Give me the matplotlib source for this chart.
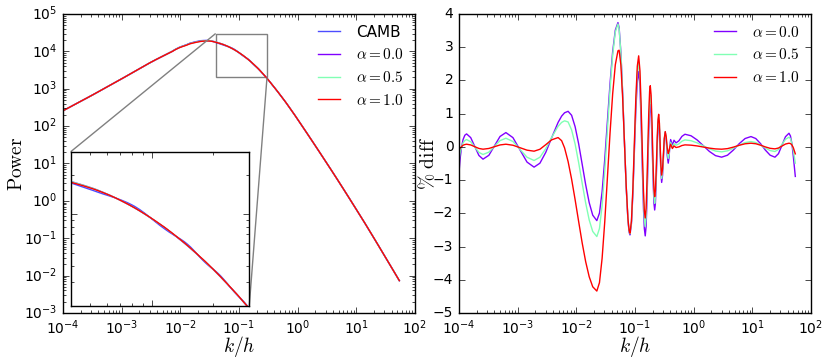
import numpy as np
import matplotlib
matplotlib.use('Agg')
from matplotlib import pyplot as plt
from mpl_toolkits.axes_grid1.inset_locator import mark_inset

plt.style.use('classic')
plt.rcParams['font.size'] = 10
plt.rcParams['figure.facecolor'] = 'white'
plt.rcParams['savefig.facecolor'] = 'white'

# log10(k/h) sampling shared by both panels
log_k = np.array([
    -4.00, -3.98, -3.955, -3.93, -3.90, -3.87, -3.80, -3.73, -3.66, -3.59,
    -3.49, -3.395, -3.30, -3.20, -3.08, -2.96, -2.84, -2.72, -2.62, -2.52,
    -2.42, -2.31, -2.25, -2.20, -2.14, -2.08, -2.02, -1.96, -1.90, -1.84,
    -1.78, -1.72, -1.65, -1.605, -1.56, -1.515, -1.47, -1.425, -1.38, -1.335,
    -1.29, -1.27, -1.24, -1.21, -1.18, -1.15, -1.12, -1.10, -1.085, -1.06,
    -1.035, -1.01, -0.985, -0.96, -0.937, -0.915, -0.895, -0.875, -0.855, -0.84,
    -0.825, -0.81, -0.795, -0.78, -0.765, -0.75, -0.739, -0.725, -0.712, -0.70,
    -0.688, -0.676, -0.664, -0.652, -0.641, -0.630, -0.619, -0.607, -0.596, -0.583,
    -0.570, -0.558, -0.545, -0.53, -0.515, -0.50, -0.484, -0.467, -0.45, -0.433,
    -0.419, -0.405, -0.392, -0.362, -0.335, -0.30, -0.25, -0.20, -0.148, -0.044,
    0.060, 0.165, 0.269, 0.373, 0.477, 0.577, 0.677, 0.777, 0.877, 0.977,
    1.059, 1.141, 1.222, 1.304, 1.386, 1.446, 1.506, 1.565, 1.625, 1.65,
    1.675, 1.70, 1.733])

# log10 of the alpha=1.0 power spectrum
log_power_a10 = np.array([
    2.410, 2.427, 2.448, 2.469, 2.494, 2.519, 2.578, 2.637, 2.696, 2.754,
    2.839, 2.921, 3.004, 3.091, 3.196, 3.301, 3.408, 3.515, 3.604, 3.693,
    3.776, 3.863, 3.910, 3.949, 3.995, 4.050, 4.095, 4.130, 4.161, 4.200,
    4.224, 4.245, 4.266, 4.273, 4.278, 4.278, 4.270, 4.256, 4.236, 4.216,
    4.194, 4.183, 4.165, 4.146, 4.125, 4.102, 4.078, 4.061, 4.048, 4.025,
    4.001, 3.976, 3.950, 3.923, 3.898, 3.872, 3.848, 3.823, 3.798, 3.779,
    3.759, 3.739, 3.718, 3.697, 3.675, 3.654, 3.638, 3.617, 3.597, 3.579,
    3.560, 3.541, 3.522, 3.502, 3.484, 3.466, 3.447, 3.427, 3.408, 3.386,
    3.363, 3.341, 3.318, 3.291, 3.263, 3.235, 3.204, 3.171, 3.138, 3.104,
    3.077, 3.049, 3.024, 2.964, 2.910, 2.838, 2.735, 2.630, 2.515, 2.282,
    2.040, 1.795, 1.550, 1.303, 1.054, 0.814, 0.571, 0.325, 0.077, -0.173,
    -0.379, -0.585, -0.794, -1.006, -1.220, -1.378, -1.536, -1.691, -1.849, -1.915,
    -1.981, -2.047, -2.134])

# percent difference with respect to CAMB
diff_a00 = np.array([
    -0.80, -0.35, 0.00, 0.22, 0.35, 0.39, 0.279, 0.01, -0.259, -0.37,
    -0.253, 0.03, 0.313, 0.43, 0.278, -0.09, -0.458, -0.61, -0.491, -0.163,
    0.275, 0.737, 0.926, 1.026, 1.07, 0.951, 0.606, 0.093, -0.522, -1.141,
    -1.680, -2.056, -2.22, -1.993, -1.347, -0.380, 0.76, 1.900, 2.867, 3.513,
    3.74, 3.587, 2.845, 1.625, 0.174, -1.193, -2.203, -2.567, -2.65, -2.310,
    -1.390, -0.136, 1.099, 1.985, 2.27, 1.815, 0.742, -0.621, -1.853, -2.462,
    -2.68, -2.392, -1.606, -0.563, 0.444, 1.112, 1.27, 1.004, 0.360, -0.413,
    -1.165, -1.703, -1.90, -1.700, -1.209, -0.55, 0.109, 0.627, 0.80, 0.516,
    -0.165, -0.786, -1.07, -0.856, -0.333, 0.203, 0.44, 0.208, -0.258, -0.49,
    -0.313, 0.043, 0.22, 0.05, 0.20, 0.12, 0.185, 0.315, 0.38, 0.334,
    0.208, 0.035, -0.138, -0.264, -0.31, -0.251, -0.096, 0.096, 0.251, 0.31,
    0.251, 0.096, -0.096, -0.251, -0.31, -0.205, 0.05, 0.305, 0.41, 0.33,
    0.10, -0.30, -0.89])

diff_a05 = np.array([
    -0.42, -0.18, 0.00, 0.12, 0.19, 0.22, 0.154, -0.005, -0.164, -0.23,
    -0.158, 0.015, 0.188, 0.26, 0.162, -0.075, -0.312, -0.41, -0.313, -0.052,
    0.285, 0.620, 0.736, 0.784, 0.75, 0.511, 0.085, -0.473, -1.091, -1.691,
    -2.201, -2.546, -2.70, -2.456, -1.763, -0.724, 0.50, 1.724, 2.763, 3.456,
    3.70, 3.548, 2.815, 1.608, 0.173, -1.179, -2.178, -2.538, -2.62, -2.263,
    -1.297, 0.022, 1.320, 2.250, 2.55, 2.095, 1.022, -0.341, -1.573, -2.182,
    -2.40, -2.112, -1.326, -0.283, 0.724, 1.392, 1.55, 1.277, 0.617, -0.176,
    -0.946, -1.499, -1.70, -1.508, -1.034, -0.40, 0.234, 0.734, 0.90, 0.619,
    -0.055, -0.669, -0.95, -0.751, -0.267, 0.230, 0.45, 0.25, -0.15, -0.35,
    -0.228, 0.018, 0.14, -0.02, 0.10, 0.05, 0.09, 0.17, 0.21, 0.186,
    0.12, 0.03, -0.06, -0.126, -0.15, -0.120, -0.043, 0.053, 0.130, 0.16,
    0.131, 0.056, -0.036, -0.111, -0.14, -0.077, 0.075, 0.227, 0.29, 0.25,
    0.10, -0.12, -0.49])

diff_a10 = np.array([
    -0.10, -0.04, 0.01, 0.05, 0.07, 0.08, 0.058, 0.005, -0.048, -0.07,
    -0.048, 0.005, 0.058, 0.08, 0.049, -0.025, -0.099, -0.13, -0.072, 0.067,
    0.212, 0.28, 0.186, -0.03, -0.44, -0.972, -1.591, -2.247, -2.889, -3.458,
    -3.910, -4.211, -4.34, -4.086, -3.353, -2.256, -0.935, 0.412, 1.599, 2.470,
    2.891, 2.91, 2.468, 1.474, 0.16, -1.154, -2.153, -2.517, -2.60, -2.232,
    -1.233, 0.129, 1.469, 2.430, 2.74, 2.291, 1.234, -0.110, -1.325, -1.925,
    -2.14, -1.849, -1.057, -0.007, 1.008, 1.681, 1.84, 1.559, 0.881, 0.067,
    -0.725, -1.293, -1.50, -1.316, -0.865, -0.26, 0.345, 0.821, 0.98, 0.702,
    0.036, -0.572, -0.85, -0.664, -0.211, 0.254, 0.46, 0.295, -0.035, -0.20,
    -0.13, 0.01, 0.08, -0.05, 0.03, -0.02, 0.00, 0.04, 0.06, 0.051,
    0.028, -0.005, -0.038, -0.061, -0.07, -0.053, -0.008, 0.048, 0.093, 0.11,
    0.094, 0.051, -0.001, -0.044, -0.06, -0.035, 0.025, 0.085, 0.11, 0.10,
    0.06, -0.03, -0.21])

alpha_labels = [r'$\alpha=0.0$', r'$\alpha=0.5$', r'$\alpha=1.0$']

k = 10**log_k
power_a10 = 10**log_power_a10
power_camb = power_a10 / (1 + diff_a10 / 100.)
power_a00 = power_camb * (1 + diff_a00 / 100.)
power_a05 = power_camb * (1 + diff_a05 / 100.)

powers = [power_a00, power_a05, power_a10]
diffs = [diff_a00, diff_a05, diff_a10]
colors = plt.cm.rainbow([0.0, 0.5, 1.0])

fig = plt.figure(figsize=(8.31, 3.62), dpi=100)
ax1 = fig.add_axes([0.0758, 0.1354, 0.4236, 0.826])
ax2 = fig.add_axes([0.5523, 0.1354, 0.4236, 0.826])

# power spectrum
ax1.loglog(k, power_camb, color='b', alpha=0.7, label='CAMB')
for p, c, lab in zip(powers, colors, alpha_labels):
    ax1.loglog(k, p, color=c, label=lab)
ax1.set_xlim(1e-4, 1e2)
ax1.set_ylim(1e-3, 1e5)
ax1.set_xlabel(r'$k/h$', fontsize=14, labelpad=-2)
ax1.set_ylabel(r'$\mathrm{Power}$', fontsize=14, labelpad=-1)
ax1.legend(loc='upper right', frameon=False, handletextpad=0.8,
           borderaxespad=0.3, fontsize=11)

# zoom on the BAO region
axins = fig.add_axes([0.0851, 0.156, 0.2149, 0.4249])
axins.loglog(k, power_camb, color='b', alpha=0.7)
for p, c in zip(powers, colors):
    axins.loglog(k, p, color=c)
axins.set_xlim(0.04, 0.3)
axins.set_ylim(2e3, 3e4)
axins.set_xticklabels([], minor=True)
axins.set_xticklabels([])
axins.set_yticklabels([], minor=True)
axins.set_yticklabels([])
mark_inset(ax1, axins, loc1=2, loc2=4, fc='none', ec='0.5')

# percent difference
for d, c, lab in zip(diffs, colors, alpha_labels):
    ax2.semilogx(k, d, color=c, label=lab)
ax2.set_xlim(1e-4, 1e2)
ax2.set_ylim(-5, 4)
ax2.set_xlabel(r'$k/h$', fontsize=14, labelpad=-2)
ax2.set_ylabel(r'$\%\ \mathrm{diff}$', fontsize=14, labelpad=-4)
ax2.legend(loc='upper right', frameon=False, handletextpad=0.8,
           borderaxespad=0.3, fontsize=11)

fig.savefig('out.png', dpi=100)
